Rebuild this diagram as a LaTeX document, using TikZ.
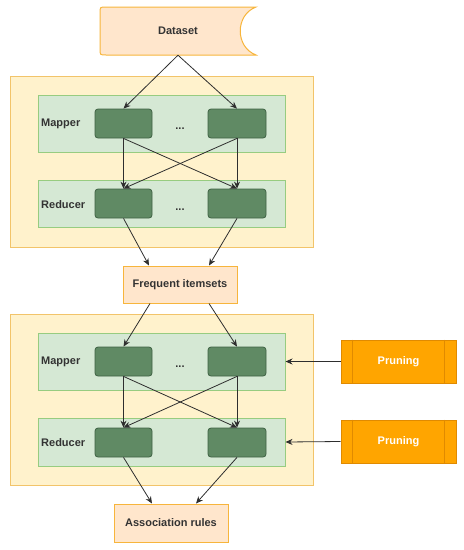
\documentclass[tikz,border=0pt]{standalone}
\usepackage{fontspec}
\setmainfont{Liberation Sans}
\usetikzlibrary{arrows.meta,calc}
\definecolor{outerfill}{HTML}{FFF2CC}
\definecolor{outerdraw}{HTML}{F2C46A}
\definecolor{peachfill}{HTML}{FFE6CC}
\definecolor{peachdraw}{HTML}{F7B53C}
\definecolor{lgfill}{HTML}{D5E8D4}
\definecolor{lgdraw}{HTML}{97CC80}
\definecolor{dgfill}{HTML}{608A64}
\definecolor{dgdraw}{HTML}{3E6143}
\definecolor{orfill}{HTML}{FFA500}
\definecolor{ordraw}{HTML}{E08A00}
\definecolor{txt}{HTML}{333333}
\tikzset{
  every node/.style={font=\fontsize{11}{13}\selectfont\bfseries, text=txt},
  outerbox/.style={draw=outerdraw, fill=outerfill, line width=1pt, minimum width=303pt, minimum height=171pt, inner sep=0pt},
  stagebox/.style={draw=lgdraw, fill=lgfill, line width=1pt, minimum width=247pt, inner sep=0pt},
  worker/.style={draw=dgdraw, fill=dgfill, line width=0.8pt, rounded corners=3pt, minimum width=57pt, minimum height=29pt, inner sep=0pt},
  peach/.style={draw=peachdraw, fill=peachfill, line width=1pt, minimum width=114pt, inner sep=0pt},
  prune/.style={draw=ordraw, fill=orfill, line width=1pt, minimum width=115pt, minimum height=43pt, inner sep=0pt, text=white},
  lbl/.style={anchor=west, inner sep=0pt},
  dots/.style={inner sep=0pt},
  arr/.style={draw=txt!90!black, line width=0.8pt, -{Stealth[length=7pt,width=6pt]}},
}
\begin{document}
\begin{tikzpicture}[x=1pt,y=-1pt]
\useasboundingbox (0,0) rectangle (464,550);
% Dataset shape
\fill[peachfill, draw=peachdraw, line width=1pt]
  (106,7) -- (256,7) .. controls (235,15) and (235,47) .. (256,55)
  -- (106,55) .. controls (100,55) and (100,55) .. (100,49)
  -- (100,13) .. controls (100,7) and (100,7) .. (106,7) -- cycle;
\node[minimum width=156pt, minimum height=48pt, inner sep=0pt] (ds) at (178,31) {Dataset};

% upper section
\node[outerbox] (o1) at (161.5,161.5) {};
\node[stagebox, minimum height=57pt] (m1) at (161.5,123.5) {};
\node[stagebox, minimum height=47pt] (r1) at (161.5,203.5) {};
\node[lbl] (m1l) at (41,124) {Mapper};
\node[lbl] (r1l) at (41,205) {Reducer};
\node[worker] (m1a) at (123.5,123.5) {};
\node[worker, minimum width=58pt] (m1b) at (237,123.5) {};
\node[worker] (r1a) at (123.5,203.5) {};
\node[worker, minimum width=58pt] (r1b) at (237,203.5) {};
\node[dots] (m1d) at (180,129) {...};
\node[dots] (r1d) at (180,210) {...};

\draw[arr] (ds.south) -- (m1a.north);
\draw[arr] (ds.south) -- (m1b.north);
\draw[arr] (m1a.south) -- (r1a.north);
\draw[arr] (m1a.south) -- (r1b.north);
\draw[arr] (m1b.south) -- (r1a.north);
\draw[arr] (m1b.south) -- (r1b.north);

% frequent itemsets
\node[peach, minimum height=37pt] (fq) at (180,284.5) {Frequent itemsets};
\draw[arr] (r1a.south) -- ($(fq.north)+(-31,0)$);
\draw[arr] (r1b.south) -- ($(fq.north)+(29,0)$);

% lower section
\node[outerbox] (o2) at (161.5,399.5) {};
\node[stagebox, minimum height=57pt] (m2) at (161.5,361.5) {};
\node[stagebox, minimum height=48pt] (r2) at (161.5,442) {};
\node[lbl] (m2l) at (41,362) {Mapper};
\node[lbl] (r2l) at (41,443) {Reducer};
\node[worker] (m2a) at (123.5,361.5) {};
\node[worker, minimum width=58pt] (m2b) at (237,361.5) {};
\node[worker] (r2a) at (123.5,442.5) {};
\node[worker, minimum width=58pt] (r2b) at (237,442.5) {};
\node[dots] (m2d) at (180,367) {...};

\draw[arr] ($(fq.south)+(-30,0)$) -- (m2a.north);
\draw[arr] ($(fq.south)+(29,0)$) -- (m2b.north);
\draw[arr] (m2a.south) -- (r2a.north);
\draw[arr] (m2a.south) -- (r2b.north);
\draw[arr] (m2b.south) -- (r2a.north);
\draw[arr] (m2b.south) -- (r2b.north);

% pruning
\node[prune] (p1) at (398.5,361.5) {Pruning};
\node[prune] (p2) at (398.5,441.5) {Pruning};
\foreach \p in {p1,p2} {
  \draw[ordraw, line width=1pt] ([xshift=12pt]\p.north west) -- ([xshift=12pt]\p.south west);
  \draw[ordraw, line width=1pt] ([xshift=-12pt]\p.north east) -- ([xshift=-12pt]\p.south east);
}
\draw[arr] (p1.west) -- (m2.east);
\draw[arr] (p2.west) -- (r2.east);

% association rules
\node[peach, minimum height=38pt] (as) at (171,523) {Association rules};
\draw[arr] (r2a.south) -- ($(as.north)+(-19,0)$);
\draw[arr] (r2b.south) -- ($(as.north)+(25,0)$);
\end{tikzpicture}
\end{document}
